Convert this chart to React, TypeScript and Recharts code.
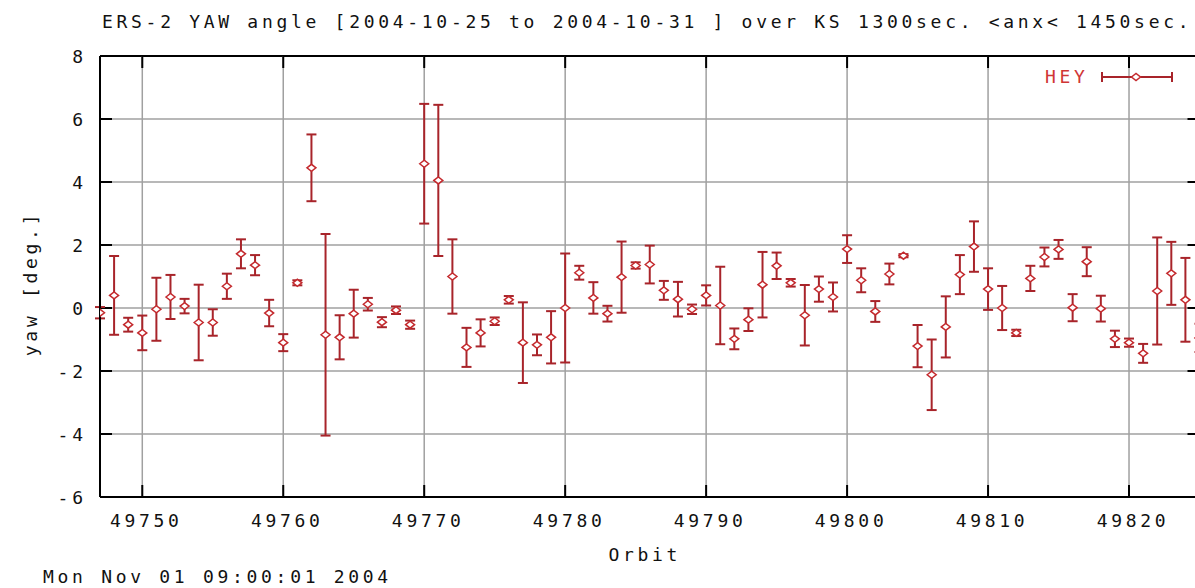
import React from "react";
import { CartesianGrid, ErrorBar, Legend, Scatter, ScatterChart, XAxis, YAxis } from "recharts";

// orbit numbers, one point per orbit
const orbits = [
  49747, 49748, 49749, 49750, 49751, 49752, 49753, 49754, 49755, 49756,
  49757, 49758, 49759, 49760, 49761, 49762, 49763, 49764, 49765, 49766,
  49767, 49768, 49769, 49770, 49771, 49772, 49773, 49774, 49775, 49776,
  49777, 49778, 49779, 49780, 49781, 49782, 49783, 49784, 49785, 49786,
  49787, 49788, 49789, 49790, 49791, 49792, 49793, 49794, 49795, 49796,
  49797, 49798, 49799, 49800, 49801, 49802, 49803, 49804, 49805, 49806,
  49807, 49808, 49809, 49810, 49811, 49812, 49813, 49814, 49815, 49816,
  49817, 49818, 49819, 49820, 49821, 49822, 49823, 49824, 49825,
];

// mean yaw angle [deg.]
const yawValues = [
  -0.15, 0.4, -0.53, -0.79, -0.04, 0.35, 0.06, -0.46, -0.46, 0.69,
  1.72, 1.36, -0.16, -1.1, 0.8, 4.45, -0.85, -0.93, -0.18, 0.12,
  -0.45, -0.07, -0.53, 4.58, 4.05, 1.0, -1.25, -0.79, -0.42, 0.26,
  -1.1, -1.17, -0.93, 0.0, 1.12, 0.32, -0.18, 0.98, 1.35, 1.38,
  0.56, 0.28, -0.04, 0.4, 0.08, -0.98, -0.37, 0.74, 1.34, 0.8,
  -0.23, 0.6, 0.35, 1.87, 0.88, -0.11, 1.08, 1.66, -1.21, -2.12,
  -0.6, 1.06, 1.95, 0.6, 0.0, -0.79, 0.94, 1.62, 1.86, 0.01,
  1.47, -0.02, -0.98, -1.1, -1.44, 0.54, 1.1, 0.26, -0.95,
];

// half length of each error bar [deg.]
const yawErrors = [
  0.18, 1.25, 0.22, 0.55, 1.0, 0.7, 0.23, 1.2, 0.42, 0.4,
  0.46, 0.32, 0.42, 0.27, 0.08, 1.06, 3.2, 0.7, 0.76, 0.2,
  0.16, 0.12, 0.13, 1.9, 2.4, 1.18, 0.62, 0.43, 0.12, 0.12,
  1.28, 0.33, 0.83, 1.73, 0.22, 0.5, 0.25, 1.13, 0.1, 0.6,
  0.3, 0.55, 0.15, 0.32, 1.23, 0.33, 0.36, 1.04, 0.42, 0.12,
  0.96, 0.4, 0.46, 0.44, 0.38, 0.33, 0.33, 0.05, 0.67, 1.12,
  0.97, 0.62, 0.8, 0.66, 0.7, 0.1, 0.4, 0.3, 0.3, 0.43,
  0.46, 0.41, 0.26, 0.13, 0.3, 1.7, 1.0, 1.33, 0.45,
];

const xTicks = [49750, 49760, 49770, 49780, 49790, 49800, 49810, 49820];
const yTicks = [-6, -4, -2, 0, 2, 4, 6, 8];
const xDomain = [49747, 49825];
const yDomain = [-6, 8];

const title = "ERS-2 YAW angle [2004-10-25 to 2004-10-31 ] over KS 1300sec. <anx< 1450sec.";
const stamp = "Mon Nov 01 09:00:01 2004";
const seriesName = "HEY";

const data = orbits.map((orbit, i) => ({ orbit, yaw: yawValues[i], err: yawErrors[i] }));

const RED = "#c42a2e";
const BAR = "#a8242a";
const GRID = "#a0a0a0";
const TICK = 12;
const LS = 3.7;
const font: React.CSSProperties = {
  fontFamily: "'DejaVu Sans Mono', monospace",
  fontSize: 18,
  letterSpacing: LS,
  fill: "#111",
};

// vertical grid line with gnuplot-style inward ticks at both borders
function GridV(props: any) {
  const { x1, y1, y2 } = props;
  const top = Math.min(y1, y2);
  const bottom = Math.max(y1, y2);
  return (
    <g key={props.key}>
      <line x1={x1} y1={top} x2={x1} y2={bottom} stroke={GRID} strokeWidth={1.5} />
      <line x1={x1} y1={top} x2={x1} y2={top + TICK} stroke="#000" strokeWidth={2} />
      <line x1={x1} y1={bottom} x2={x1} y2={bottom - TICK} stroke="#000" strokeWidth={2} />
    </g>
  );
}

// horizontal grid line; the top one doubles as the plot border
function GridH(props: any) {
  const { x1, x2, y1 } = props;
  const plotTop = typeof props.y === "number" ? props.y : 56;
  const left = Math.min(x1, x2);
  const right = Math.max(x1, x2);
  if (Math.abs(y1 - plotTop) < 1) {
    return <line key={props.key} x1={left} y1={y1} x2={right} y2={y1} stroke="#000" strokeWidth={2} />;
  }
  return (
    <g key={props.key}>
      <line x1={left} y1={y1} x2={right} y2={y1} stroke={GRID} strokeWidth={1.5} />
      <line x1={left} y1={y1} x2={left + TICK} y2={y1} stroke="#000" strokeWidth={2} />
      <line x1={right} y1={y1} x2={right - TICK} y2={y1} stroke="#000" strokeWidth={2} />
    </g>
  );
}

function BottomTick({ x, y, payload }: any) {
  return (
    <text x={x + 4} y={y + 30} textAnchor="middle" style={font}>
      {payload.value}
    </text>
  );
}

function LeftTick({ x, y, payload }: any) {
  return (
    <text x={x - 17 + LS} y={y + 7} textAnchor="end" style={font}>
      {payload.value}
    </text>
  );
}

function Marker({ cx, cy }: any) {
  if (cx == null || cy == null) return null;
  return (
    <path
      d={`M${cx - 4.5},${cy} L${cx},${cy - 3.5} L${cx + 4.5},${cy} L${cx},${cy + 3.5} Z`}
      fill="#fff"
      stroke={RED}
      strokeWidth={1.5}
    />
  );
}

function YawLabel({ viewBox }: any) {
  const vb = viewBox || { x: 0, y: 56, width: 100, height: 441 };
  const cx = vb.x + 30;
  const cy = vb.y + vb.height / 2 + 7;
  return (
    <text
      x={cx}
      y={cy}
      transform={`rotate(-90 ${cx} ${cy})`}
      textAnchor="middle"
      dominantBaseline="central"
      style={font}
    >
      yaw [deg.]
    </text>
  );
}

function OrbitLabel({ viewBox }: any) {
  const vb = viewBox || { x: 100, y: 497, width: 1100, height: 40 };
  return (
    <text x={vb.x + vb.width / 2 - 5} y={vb.y + 64} textAnchor="middle" style={font}>
      Orbit
    </text>
  );
}

function HeyLegend() {
  return (
    <svg width={150} height={28} style={{ display: "block" }}>
      <text x={5} y={20} style={{ ...font, fill: "#d03636" }}>
        {seriesName}
      </text>
      <line x1={62} y1={14} x2={132} y2={14} stroke={BAR} strokeWidth={2} />
      <line x1={62} y1={9} x2={62} y2={19} stroke={BAR} strokeWidth={2} />
      <line x1={132} y1={9} x2={132} y2={19} stroke={BAR} strokeWidth={2} />
      <Marker cx={96} cy={14} />
    </svg>
  );
}

export default function App() {
  return (
    <div
      style={{
        position: "absolute",
        left: 0,
        top: 0,
        width: 1195,
        height: 588,
        overflow: "hidden",
        background: "#fff",
      }}
    >
      <svg width={1195} height={588} style={{ position: "absolute", left: 0, top: 0 }}>
        <text x={102} y={28} style={font}>
          {title}
        </text>
        <text x={43} y={583} style={font}>
          {stamp}
        </text>
      </svg>
      <div style={{ position: "absolute", left: 0, top: 0 }}>
        <ScatterChart width={1210} height={588} margin={{ top: 56, right: 10.5, left: 0, bottom: 51 }}>
          <CartesianGrid horizontal={GridH} vertical={GridV} />
          <XAxis
            type="number"
            dataKey="orbit"
            domain={xDomain}
            ticks={xTicks}
            allowDataOverflow
            height={40}
            tickSize={0}
            tickMargin={0}
            tickLine={false}
            tick={<BottomTick />}
            axisLine={{ stroke: "#000", strokeWidth: 2 }}
            label={{ content: <OrbitLabel /> }}
          />
          <YAxis
            type="number"
            dataKey="yaw"
            domain={yDomain}
            ticks={yTicks}
            allowDataOverflow
            width={100}
            tickSize={0}
            tickMargin={0}
            tickLine={false}
            tick={<LeftTick />}
            axisLine={{ stroke: "#000", strokeWidth: 2 }}
            label={{ content: <YawLabel /> }}
          />
          <Legend
            layout="horizontal"
            verticalAlign="middle"
            align="center"
            content={<HeyLegend />}
            wrapperStyle={{ position: "absolute", left: 1040, top: 63, width: 150, height: 28 }}
          />
          <Scatter name={seriesName} data={data} shape={<Marker />} isAnimationActive={false}>
            <ErrorBar
              dataKey="err"
              direction="y"
              width={5}
              stroke={BAR}
              strokeWidth={2}
              isAnimationActive={false}
            />
          </Scatter>
        </ScatterChart>
      </div>
    </div>
  );
}
